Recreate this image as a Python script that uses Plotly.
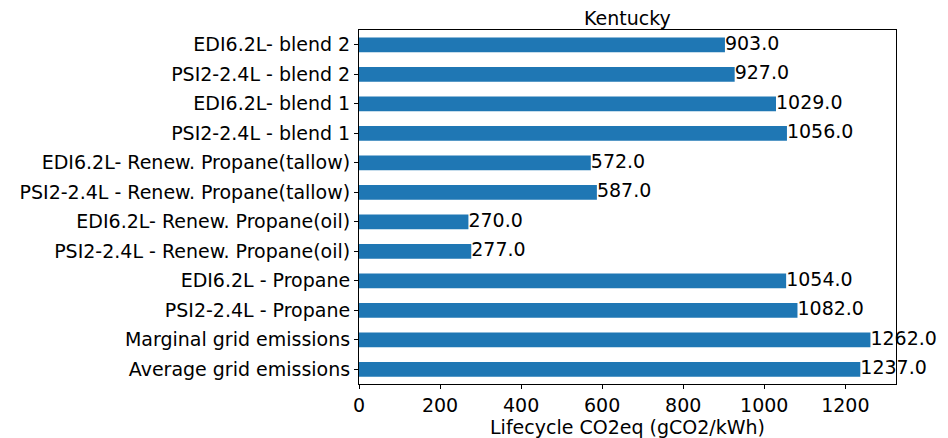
import plotly.graph_objects as go

# Categories from bottom to top (pandas barh order)
categorias = [
    "Average grid emissions",
    "Marginal grid emissions",
    "PSI2-2.4L - Propane",
    "EDI6.2L - Propane",
    "PSI2-2.4L - Renew. Propane(oil)",
    "EDI6.2L- Renew. Propane(oil)",
    "PSI2-2.4L - Renew. Propane(tallow)",
    "EDI6.2L- Renew. Propane(tallow)",
    "PSI2-2.4L - blend 1",
    "EDI6.2L- blend 1",
    "PSI2-2.4L - blend 2",
    "EDI6.2L- blend 2",
]
valores = [1237.0, 1262.0, 1082.0, 1054.0, 277.0, 270.0, 587.0, 572.0, 1056.0, 1029.0, 927.0, 903.0]
xticks = [0, 200, 400, 600, 800, 1000, 1200]

W, H = 940, 430  # la página añade 8px de margen al body

fig = go.Figure()

fig.add_trace(go.Bar(
    x=valores,
    y=categorias,
    orientation='h',
    width=0.5,
    marker=dict(color='#1f77b4', line=dict(width=0)),
    hoverinfo='x+y',
))

# etiquetas de valor al final de cada barra
fig.add_trace(go.Scatter(
    x=valores,
    y=categorias,
    mode='text',
    text=[f"{v:.1f}" for v in valores],
    textposition='middle right',
    textfont=dict(size=19, color='black'),
    cliponaxis=False,
    hoverinfo='skip',
))

fig.update_layout(
    width=W,
    height=H,
    margin=dict(l=351, r=52, t=22, b=54),
    paper_bgcolor='white',
    plot_bgcolor='white',
    showlegend=False,
    font=dict(family='DejaVu Sans', size=19, color='black'),
    title=dict(text='Kentucky', x=((359 + 896) / 2 - 8) / W, xanchor='center',
               y=1 - 10 / H, yanchor='middle', font=dict(size=19)),
)

fig.update_xaxes(
    range=[0, max(valores) * 1.05],
    tickvals=xticks,
    ticks='outside', ticklen=4, tickcolor='black',
    tickfont=dict(size=19),
    showline=True, linecolor='black', linewidth=1, mirror=True,
    showgrid=False, zeroline=False, automargin=False,
    title=dict(text='Lifecycle CO2eq (gCO2/kWh)', standoff=2, font=dict(size=19)),
)
fig.update_yaxes(
    type='category',
    categoryorder='array', categoryarray=categorias,
    range=[-0.5, len(categorias) - 0.5],
    ticks='outside', ticklen=4, tickcolor='black',
    tickfont=dict(size=19),
    showline=True, linecolor='black', linewidth=1, mirror=True,
    showgrid=False, zeroline=False, automargin=False,
)

fig.write_html("out.html")
